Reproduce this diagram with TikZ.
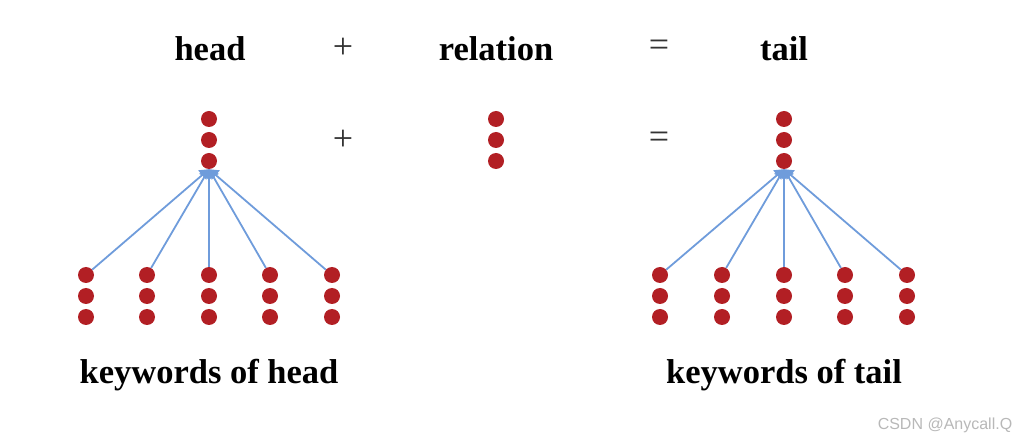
\documentclass[tikz,border=0pt]{standalone}
\usepackage{fontspec}
\setmainfont{Liberation Serif}
\newfontfamily\marksans{Liberation Sans}
\usetikzlibrary{arrows.meta}
\definecolor{dotred}{HTML}{B21F24}
\definecolor{linkblue}{HTML}{6F9CDB}
\begin{document}
\begin{tikzpicture}[x=1pt,y=-1pt,
    dot/.style={circle,fill=dotred,inner sep=0pt,minimum size=16pt},
    word/.style={anchor=base,inner sep=0pt,font=\fontsize{34.5}{38}\selectfont\bfseries},
    op/.style={inner sep=0pt,text=black!80,font=\fontsize{36}{40}\selectfont},
    link/.style={draw=linkblue,line width=1.8pt,-{Triangle[width=12pt,length=9pt]}}]
  \useasboundingbox (0,0) rectangle (1025,443);
  % top line
  \draw
    (210,61) node[word] (head){head}
    (343,48) node[op] (plus){+}
    (496,61) node[word] (relation){relation}
    (659,48) node[op] (equals){=}
    (784,61) node[word] (tail){tail};
  % embeddings
  \draw
    (209,119) node[dot] (h1){}
    (209,140) node[dot] (h2){}
    (209,161) node[dot] (h3){}
    (343,140) node[op] (plusb){+}
    (496,119) node[dot] (r1){}
    (496,140) node[dot] (r2){}
    (496,161) node[dot] (r3){}
    (659,140) node[op] (equalsb){=}
    (784,119) node[dot] (t1){}
    (784,140) node[dot] (t2){}
    (784,161) node[dot] (t3){};
  % keywords of head
  \draw
    (86,275) node[dot] (kh1){}   (86,296) node[dot] {}  (86,317) node[dot] {}
    (147,275) node[dot] (kh2){}  (147,296) node[dot] {} (147,317) node[dot] {}
    (209,275) node[dot] (kh3){}  (209,296) node[dot] {} (209,317) node[dot] {}
    (270,275) node[dot] (kh4){}  (270,296) node[dot] {} (270,317) node[dot] {}
    (332,275) node[dot] (kh5){}  (332,296) node[dot] {} (332,317) node[dot] {};
  % keywords of tail
  \draw
    (660,275) node[dot] (kt1){}  (660,296) node[dot] {} (660,317) node[dot] {}
    (722,275) node[dot] (kt2){}  (722,296) node[dot] {} (722,317) node[dot] {}
    (784,275) node[dot] (kt3){}  (784,296) node[dot] {} (784,317) node[dot] {}
    (845,275) node[dot] (kt4){}  (845,296) node[dot] {} (845,317) node[dot] {}
    (907,275) node[dot] (kt5){}  (907,296) node[dot] {} (907,317) node[dot] {};
  \begin{scope}[link]
    \draw (kh1) to (h3.south);
    \draw (kh2) to (h3.south);
    \draw (kh3) to (h3.south);
    \draw (kh4) to (h3.south);
    \draw (kh5) to (h3.south);
    \draw (kt1) to (t3.south);
    \draw (kt2) to (t3.south);
    \draw (kt3) to (t3.south);
    \draw (kt4) to (t3.south);
    \draw (kt5) to (t3.south);
  \end{scope}
  \draw
    (209,383) node[word] (khlabel){keywords of head}
    (784,383) node[word] (ktlabel){keywords of tail};
  \node[text=black!28,font=\marksans\fontsize{16}{18}\selectfont] (mark) at (945,425) {CSDN @Anycall.Q};
\end{tikzpicture}
\end{document}
